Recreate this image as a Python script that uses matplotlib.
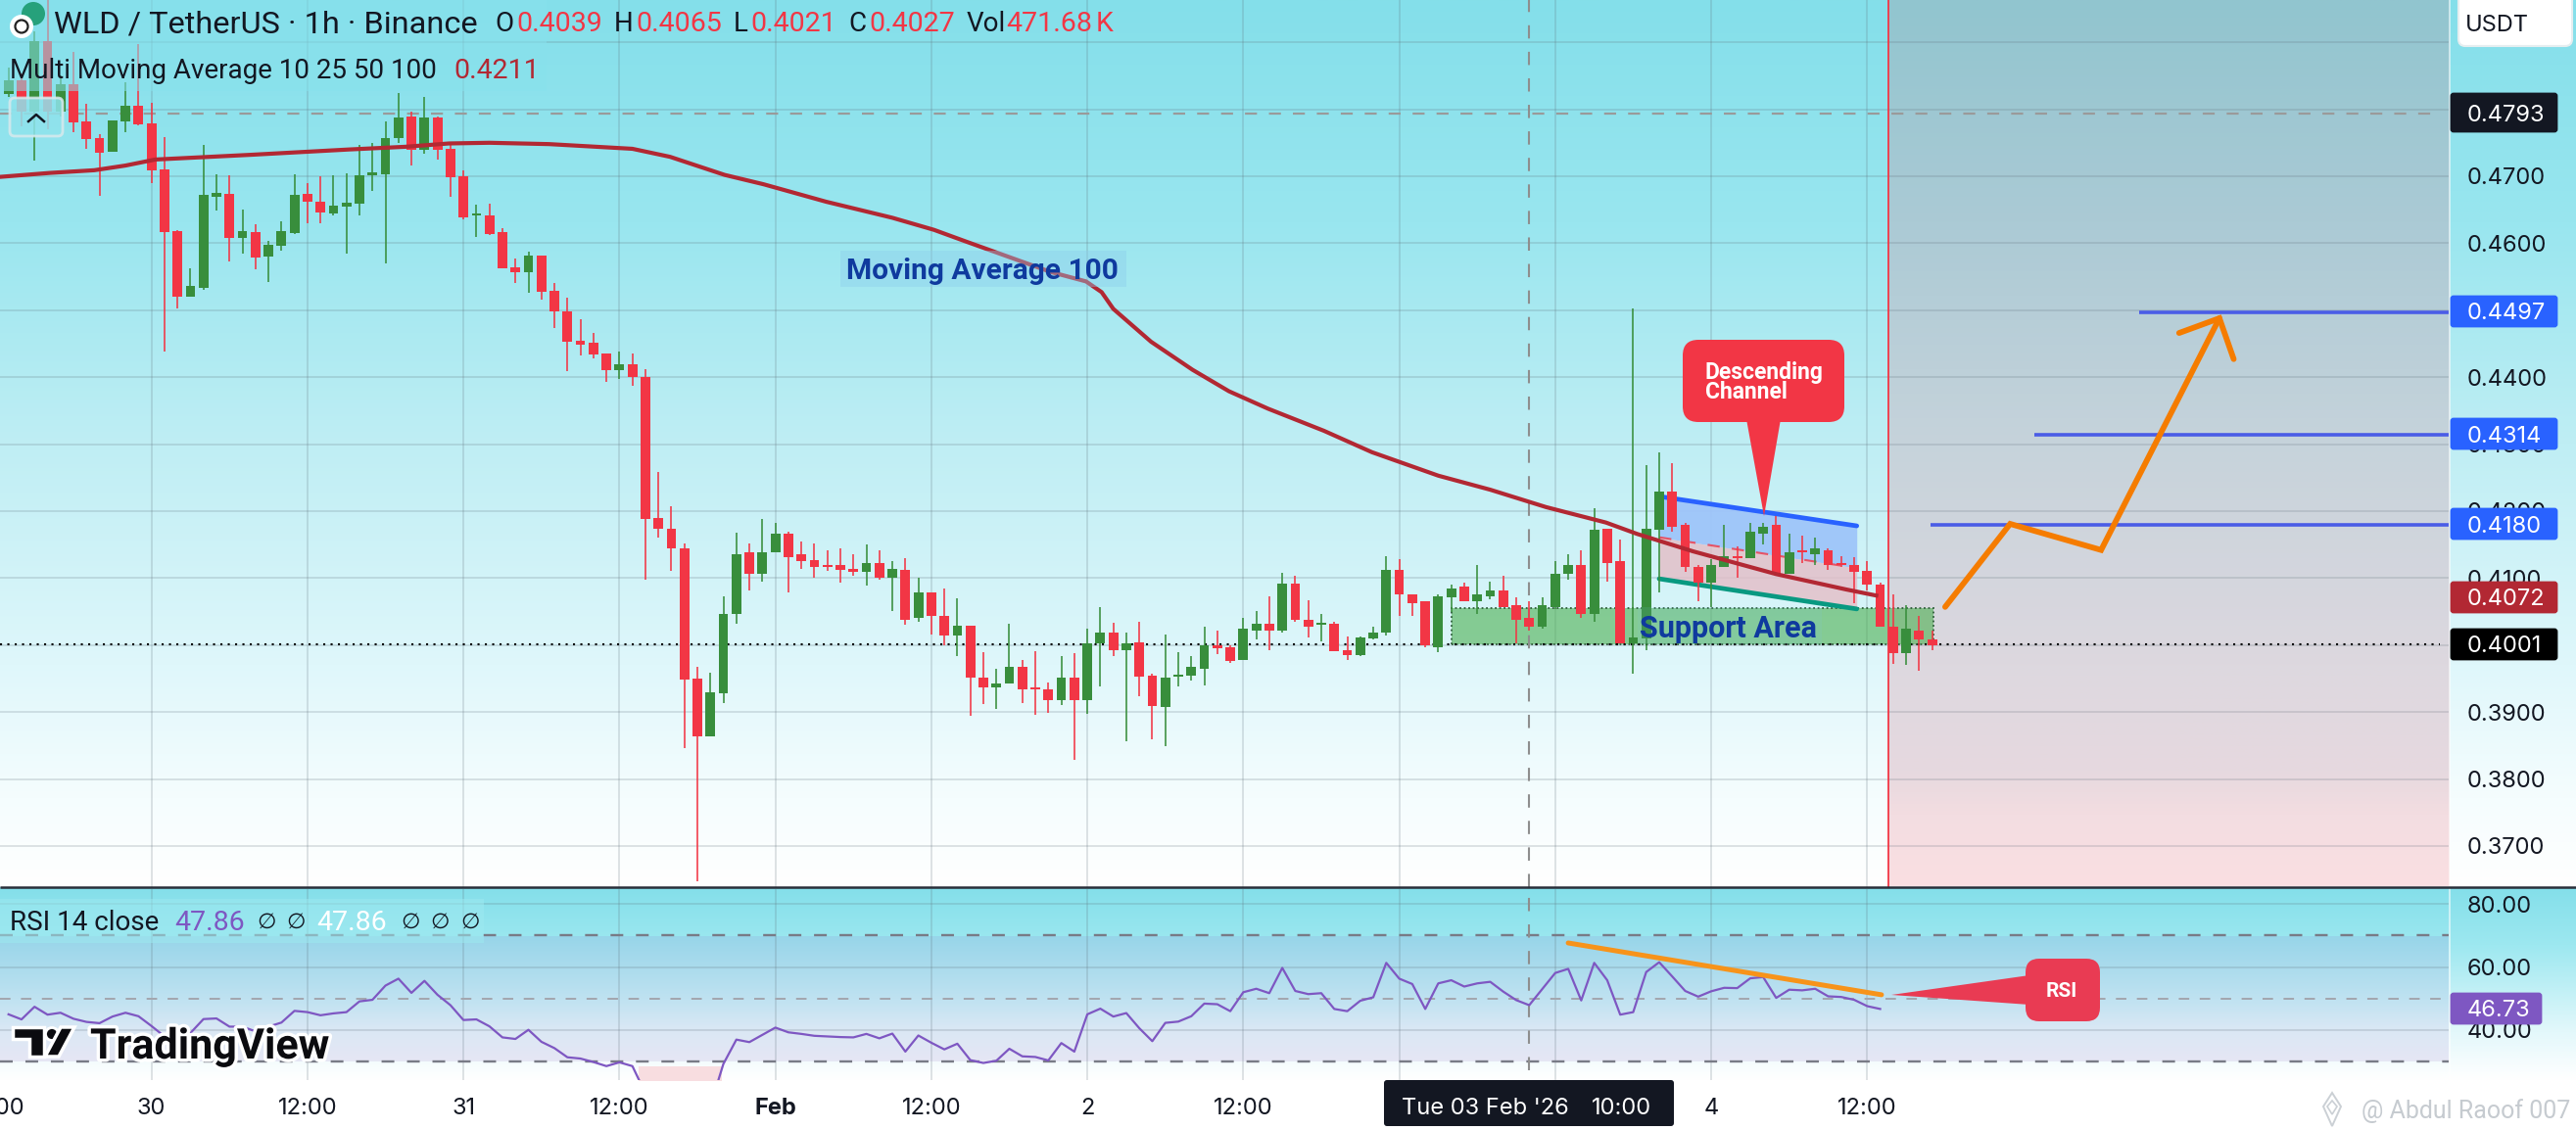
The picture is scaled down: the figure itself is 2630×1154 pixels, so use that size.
import numpy as np
import matplotlib
matplotlib.use('Agg')
import matplotlib.pyplot as plt
import matplotlib.patheffects as pe
from matplotlib.colors import to_rgb
from matplotlib.patches import Circle, FancyBboxPatch, Polygon, Rectangle

W, H = 2630, 1154
PANE_RIGHT = 2500
MAIN_BOTTOM = 906
RSI_TOP, RSI_BOTTOM = 908, 1103

# hourly candles, first one is 29 Jan 13:00
OPEN = [.4823,.4844,.4797,.4902,.4797,.4837,.4782,.4757,.4737,.4782,
        .4805,.4779,.4710,.4618,.4520,.4533,.4669,.4674,.4608,.4617,
        .4580,.4596,.4615,.4674,.4662,.4644,.4655,.4659,.4701,.4703,
        .4757,.4789,.4740,.4788,.4741,.4700,.4642,.4641,.4617,.4564,
        .4557,.4581,.4529,.4498,.4454,.4451,.4435,.4410,.4419,.4401,
        .4190,.4174,.4144,.3950,.3864,.3928,.4046,.4138,.4107,.4138,
        .4167,.4135,.4127,.4120,.4119,.4114,.4110,.4122,.4100,.4113,
        .4040,.4078,.4044,.4015,.4029,.3952,.3937,.3942,.3968,.3937,
        .3934,.3918,.3952,.3918,.4002,.4019,.3993,.4004,.3955,.3908,
        .3953,.3955,.3965,.3999,.3997,.3978,.4022,.4032,.4021,.4092,
        .4038,.4031,.4032,.3993,.3985,.4010,.4019,.4112,.4076,.4065,
        .3997,.4072,.4087,.4066,.4073,.4081,.4059,.4040,.4027,.4057,
        .4106,.4119,.4046,.4173,.4125,.4003,.4010,.4172,.4229,.4180,
        .4117,.4094,.4117,.4133,.4130,.4167,.4179,.4107,.4141,.4136,
        .4142,.4122,.4119,.4111,.4091,.4028,.3988,.4022,.4008]
HIGH = [.4862,.4853,.4916,.4965,.4850,.4886,.4808,.4763,.4784,.4841,
        .4898,.4810,.4759,.4620,.4562,.4747,.4703,.4701,.4650,.4628,
        .4603,.4633,.4703,.4690,.4700,.4701,.4704,.4747,.4750,.4782,
        .4824,.4797,.4819,.4789,.4747,.4709,.4658,.4659,.4622,.4577,
        .4587,.4581,.4540,.4518,.4486,.4466,.4435,.4438,.4435,.4412,
        .4259,.4207,.4152,.3968,.3959,.4073,.4168,.4152,.4189,.4183,
        .4169,.4154,.4152,.4141,.4145,.4136,.4151,.4141,.4126,.4130,
        .4101,.4079,.4085,.4070,.4029,.3990,.3965,.4032,.3978,.3991,
        .3944,.3984,.3988,.4025,.4057,.4034,.4018,.4035,.3958,.4016,
        .3990,.3984,.4028,.4022,.4000,.4041,.4051,.4073,.4108,.4103,
        .4067,.4046,.4035,.4013,.4013,.4028,.4133,.4128,.4076,.4065,
        .4076,.4090,.4094,.4120,.4095,.4104,.4072,.4065,.4071,.4125,
        .4135,.4141,.4204,.4173,.4158,.4502,.4268,.4287,.4271,.4182,
        .4120,.4128,.4180,.4148,.4182,.4182,.4192,.4167,.4163,.4160,
        .4144,.4133,.4132,.4126,.4094,.4076,.4060,.4044,.4022]
LOW = [.4819,.4774,.4723,.4770,.4789,.4766,.4741,.4671,.4737,.4766,
       .4776,.4690,.4438,.4502,.4520,.4530,.4649,.4573,.4584,.4561,
       .4542,.4589,.4614,.4630,.4630,.4641,.4584,.4641,.4678,.4570,
       .4750,.4716,.4734,.4725,.4669,.4636,.4609,.4612,.4562,.4540,
       .4526,.4516,.4473,.4409,.4432,.4428,.4393,.4398,.4387,.4098,
       .4160,.4111,.3846,.3647,.3864,.3914,.4032,.4081,.4095,.4138,
       .4078,.4114,.4100,.4111,.4094,.4103,.4089,.4098,.4051,.4031,
       .4035,.4016,.3999,.3983,.3895,.3912,.3904,.3942,.3914,.3896,
       .3899,.3911,.3829,.3898,.3939,.3984,.3857,.3924,.3860,.3849,
       .3939,.3947,.3940,.3987,.3974,.3978,.4009,.3993,.4019,.4035,
       .4012,.4006,.3991,.3978,.3984,.4008,.4015,.4043,.4044,.3997,
       .3990,.4050,.4065,.4047,.4069,.4056,.4003,.4022,.4024,.4054,
       .4097,.4040,.4035,.4095,.4002,.3958,.3993,.4078,.4169,.4109,
       .4065,.4057,.4117,.4101,.4130,.4150,.4105,.4107,.4122,.4119,
       .4112,.4116,.4063,.4081,.4027,.3972,.3970,.3962,.3992]
CLOSE = [.4844,.4797,.4902,.4797,.4837,.4781,.4756,.4735,.4783,.4805,
         .4777,.4709,.4617,.4520,.4536,.4672,.4675,.4608,.4618,.4578,
         .4598,.4618,.4672,.4662,.4646,.4656,.4661,.4701,.4706,.4757,
         .4788,.4740,.4788,.4740,.4699,.4639,.4644,.4614,.4562,.4557,
         .4581,.4527,.4498,.4453,.4448,.4434,.4410,.4419,.4401,.4188,
         .4173,.4144,.3949,.3864,.3930,.4047,.4136,.4107,.4139,.4167,
         .4132,.4126,.4117,.4117,.4113,.4110,.4122,.4101,.4114,.4037,
         .4078,.4043,.4015,.4029,.3952,.3937,.3943,.3968,.3934,.3934,
         .3918,.3952,.3918,.4003,.4019,.3993,.4003,.3953,.3909,.3952,
         .3956,.3968,.3999,.3996,.3977,.4024,.4032,.4021,.4092,.4037,
         .4028,.4034,.3991,.3985,.4012,.4019,.4112,.4075,.4062,.3999,
         .4073,.4084,.4066,.4076,.4082,.4056,.4038,.4027,.4059,.4107,
         .4120,.4047,.4172,.4122,.4002,.4012,.4173,.4229,.4177,.4117,
         .4094,.4119,.4133,.4130,.4170,.4177,.4107,.4139,.4138,.4144,
         .4119,.4119,.4109,.4091,.4027,.3988,.4025,.4008,.4000]

MA_BARS = [-0.7, 3.2, 6.6, 9, 11.3, 18.6, 26.2, 30.5, 33.9, 37, 41.6, 48, 50.9, 55.1, 58.1,
           62.9, 68, 71.2, 73.6, 80.2, 82.9, 84.1, 85, 87.9, 91.1, 93.9, 96.9, 101.2, 104.9,
           110, 114, 118.3, 122.9, 125.3, 129.6, 136, 141.4, 143.7]
MA_100 = [.4699, .4705, .4709, .4716, .4725, .4732, .4740, .4744, .4749, .4750, .4748, .4741,
          .4729, .4702, .4688, .4662, .4638, .4620, .4603, .4557, .4543, .4527, .4502, .4453,
          .4411, .4379, .4353, .4320, .4288, .4253, .4232, .4206, .4183, .4166, .4140, .4106,
          .4083, .4074]

RSI = [45.0, 43.4, 47.4, 44.9, 45.5, 43.6, 42.6, 42.2, 44.3, 45.5, 44.4, 41.3, 38.0, 36.5, 39.1,
       43.5, 43.7, 41.1, 41.1, 39.6, 41.1, 42.4, 46.1, 45.7, 44.7, 45.3, 45.7, 49.1, 49.6, 54.1,
       56.3, 51.8, 55.6, 51.2, 47.9, 43.2, 43.4, 41.2, 37.7, 37.2, 40.1, 36.3, 34.3, 31.4, 31.0,
       29.9, 28.6, 29.8, 28.6, 20.0, 19.0, 18.5, 13.0, 12.0, 16.0, 29.3, 37.0, 36.2, 38.5, 40.8,
       39.3, 38.8, 38.2, 38.0, 37.8, 37.7, 38.8, 37.4, 38.9, 33.2, 38.3, 36.0, 33.9, 35.7, 30.5,
       29.6, 30.3, 34.1, 31.7, 31.5, 30.4, 35.9, 33.2, 45.0, 46.8, 44.3, 45.4, 40.6, 36.5, 42.3,
       42.7, 44.4, 48.4, 48.2, 46.0, 52.0, 53.1, 51.7, 59.7, 52.4, 51.4, 51.7, 46.7, 46.0, 49.3,
       50.4, 61.3, 56.3, 54.6, 46.7, 54.8, 55.8, 53.8, 54.8, 55.3, 52.2, 49.5, 47.9, 53.0, 58.1,
       59.4, 49.4, 61.3, 55.8, 44.9, 45.7, 58.4, 61.5, 57.0, 52.4, 50.6, 52.3, 53.4, 53.3, 56.4,
       56.8, 50.2, 52.8, 52.6, 53.1, 50.7, 50.5, 49.6, 47.6, 46.7]

PRICE_TICKS = [.37, .38, .39, .40, .41, .42, .43, .44, .45, .46, .47, .48, .49]
TIME_TICKS = [11, 23, 35, 47, 59, 71, 83, 95, 107, 119, 131, 143]
TIME_LABELS = ['30', '12:00', '31', '12:00', 'Feb', '12:00', '2', '12:00', '3', '12:00', '4', '12:00']
RSI_TICKS = [40, 60, 80]
RSI_LEVELS = [30, 50, 70]

HIGH_LINE = .4793
LAST_LINE = .4001
CROSSHAIR_BAR = 117
NOW_BAR = 144.6

TARGET_PRICES = [.4180, .4314, .4497]
TARGET_STARTS = [147.9, 155.9, 163.9]

CH_BARS = [127, 142.2]
CH_UPPER = [.4222, .4178]
CH_MID = [.4161, .4115]
CH_LOWER = [.4099, .4054]

SUPPORT_BARS = [111, 148.1]
SUPPORT_PRICES = [.4001, .4055]

PATH_BARS = [149, 154, 161, 170.1]
PATH_PRICES = [.4057, .4181, .4142, .4488]
HEAD_BARS = [167, 170.1, 171.2]
HEAD_PRICES = [.4466, .4488, .4427]

RSI_TREND_BARS = [120, 144.1]
RSI_TREND = [67.6, 51.2]

RED = '#F23645'
GREEN = '#388E3C'
DARK = '#131722'
BLUE_TAG = '#2962FF'
PURPLE = '#7E57C2'
UI = ['Inter', 'DejaVu Sans']
HEAD = ['Roboto', 'DejaVu Sans']


def gradient(stops, n):
    # stops are (position 0-1, colour)
    pos = [s[0] for s in stops]
    cols = np.array([to_rgb(s[1]) for s in stops])
    t = np.linspace(0, 1, n)
    return np.stack([np.interp(t, pos, cols[:, i]) for i in range(3)], axis=1)[:, None, :]


fig = plt.figure(figsize=(W / 100, H / 100), dpi=100, facecolor='white')

# background layer in pixels
bg = fig.add_axes([0, 0, 1, 1], zorder=0)
bg.axis('off')
main_grad = gradient([(0, '#84DFEA'), (.25, '#99E6EF'), (.5, '#BFEEF4'), (.75, '#DFF7FB'),
                      (.9, '#F5FDFE'), (1, '#FFFFFF')], 400)
rsi_grad = gradient([(0, '#84DFEA'), (.3, '#9DE8F0'), (.75, '#E3F8FB'), (1, '#FFFFFF')], 200)
bg.imshow(main_grad, extent=(0, W, MAIN_BOTTOM, 0), aspect='auto')
bg.imshow(rsi_grad, extent=(0, W, RSI_BOTTOM, MAIN_BOTTOM), aspect='auto')
band = gradient([(0, '#97D5E9'), (.5, '#BFE2F1'), (.75, '#DAE8F5'), (1, '#E6E6F4')], 200)
bg.imshow(band, extent=(0, PANE_RIGHT, 1084, 956), aspect='auto')
future = gradient([(0, '#91C5CF'), (.25, '#ABCAD5'), (.5, '#C6D3DB'), (.75, '#DDD8DF'),
                   (.87, '#E6D9DF'), (.92, '#F3DDE1'), (1, '#FADFE2')], 400)
bg.imshow(future, extent=(NOW_BAR * 13.27 + 8.7, PANE_RIGHT, MAIN_BOTTOM - 1, 0), aspect='auto')
bg.add_patch(Rectangle((PANE_RIGHT, 0), 2, RSI_BOTTOM, color='white', alpha=.55, lw=0))
bg.add_patch(Rectangle((0, RSI_BOTTOM), W, H - RSI_BOTTOM, color='white', lw=0))
bg.set_xlim(0, W)
bg.set_ylim(H, 0)

# main price pane
ax = fig.add_axes([0, (H - MAIN_BOTTOM) / H, PANE_RIGHT / W, MAIN_BOTTOM / H], zorder=1)
ax.patch.set_alpha(0)
for s in ax.spines.values():
    s.set_visible(False)
bars = np.arange(len(OPEN))
xlim = (-8.7 / 13.27, (PANE_RIGHT - 8.7) / 13.27)
ax.set_xlim(xlim)
ax.set_ylim(.37 - 42 / 6840, .37 + 864 / 6840)
ax.yaxis.tick_right()
ax.set_yticks(PRICE_TICKS)
# 0.4900 sits under the USDT button in the original
ax.set_yticklabels(['%.4f' % p if p < .49 else '' for p in PRICE_TICKS], family=UI, fontsize=17, color='#131722')
ax.set_xticks(TIME_TICKS)
ax.tick_params(axis='x', length=0, labelbottom=False)
ax.tick_params(axis='y', length=0, pad=13.5)
ax.grid(True, color='#5F6F7A', alpha=.25, lw=1.1, zorder=1)
ax.set_axisbelow(True)

# channel sits behind the candles
ax.fill_between(CH_BARS, CH_MID, CH_UPPER, color='#9EC5FA', alpha=.95, lw=0, zorder=2)
ax.fill_between(CH_BARS, CH_LOWER, CH_MID, color='#E5BDC6', alpha=.8, lw=0, zorder=2)
ax.plot(CH_BARS, CH_MID, color=RED, lw=1.5, ls=(0, (6, 6)), alpha=.8, zorder=2.1)
ax.plot(CH_BARS, CH_UPPER, color=BLUE_TAG, lw=3.4, solid_capstyle='round', zorder=2.2)
ax.plot(CH_BARS, CH_LOWER, color='#089981', lw=3.4, solid_capstyle='round', zorder=2.2)

ax.add_patch(Rectangle((SUPPORT_BARS[0], SUPPORT_PRICES[0]), SUPPORT_BARS[1] - SUPPORT_BARS[0],
                       SUPPORT_PRICES[1] - SUPPORT_PRICES[0], facecolor='#4CAF50', alpha=.6, lw=0, zorder=2))
ax.add_patch(Rectangle((SUPPORT_BARS[0], SUPPORT_PRICES[0]), SUPPORT_BARS[1] - SUPPORT_BARS[0],
                       SUPPORT_PRICES[1] - SUPPORT_PRICES[0], fill=False, edgecolor='#2F5E3A', lw=1.3,
                       ls=(0, (1, 1.5)), zorder=2.1))

ax.axhline(HIGH_LINE, xmax=(NOW_BAR + 42.5) / xlim[1], color='#9A9A9A', lw=1.6, ls=(0, (5.5, 5.5)), zorder=2.3)
ax.axhline(LAST_LINE, xmax=(NOW_BAR + 42.5) / xlim[1], color='black', lw=1.5, ls=(0, (1, 2.6)), zorder=2.3)
ax.axvline(CROSSHAIR_BAR, color='#8E8E8E', lw=1.5, ls=(0, (6.5, 6.5)), zorder=2.3)

colors = [GREEN if c >= o else RED for o, c in zip(OPEN, CLOSE)]
ax.vlines(bars, LOW, HIGH, colors=colors, lw=1.15, zorder=3)
ax.bar(bars, np.array(CLOSE) - np.array(OPEN), bottom=OPEN, width=.74, color=colors, lw=0, zorder=3)

ax.plot(MA_BARS, MA_100, color='#B22833', lw=3, zorder=4)
ax.axvline(NOW_BAR, color=RED, lw=1.3, zorder=4)

for price, start in zip(TARGET_PRICES, TARGET_STARTS):
    ax.hlines(price, start, xlim[1], color='#4A5CE6', lw=2.6, zorder=4)
ax.plot(PATH_BARS, PATH_PRICES, color='#F57C00', lw=4.2, solid_capstyle='round', solid_joinstyle='miter', zorder=5)
ax.plot(HEAD_BARS, HEAD_PRICES, color='#F57C00', lw=4.2, solid_capstyle='round', solid_joinstyle='miter', zorder=5)

# rsi pane
rx = fig.add_axes([0, (H - RSI_BOTTOM) / H, PANE_RIGHT / W, (RSI_BOTTOM - RSI_TOP) / H], zorder=1)
rx.patch.set_alpha(0)
for s in rx.spines.values():
    s.set_visible(False)
rx.set_xlim(xlim)
rx.set_ylim(80 - (RSI_BOTTOM - 923) / 3.225, 80 + (923 - RSI_TOP) / 3.225)
rx.yaxis.tick_right()
rx.set_yticks(RSI_TICKS)
rx.set_yticklabels(['%.2f' % v for v in RSI_TICKS], family=UI, fontsize=17, color='#131722')
rx.set_xticks(TIME_TICKS)
rx.set_xticklabels(TIME_LABELS, family=UI, fontsize=17, color='#131722')
rx.get_xticklabels()[TIME_LABELS.index('Feb')].set_fontweight('bold')
rx.tick_params(axis='x', length=0, pad=13)
rx.tick_params(axis='y', length=0, pad=13.5)
rx.grid(True, color='#5F6F7A', alpha=.25, lw=1.1)
rx.set_axisbelow(True)
rx.fill_between([48.5, 54.9], 20, 28.6, color='#F8DDE0', lw=0, zorder=1.5)
for level in RSI_LEVELS:
    rx.axhline(level, color='#787B86' if level != 50 else '#A3A6AE', lw=1.7 if level != 50 else 1.4,
               ls=(0, (5.5, 5.5)), zorder=1.6)
rx.axvline(CROSSHAIR_BAR, ymin=.05, color='#8E8E8E', lw=1.5, ls=(0, (6.5, 6.5)), zorder=1.7)
rx.plot(np.arange(len(RSI)), RSI, color=PURPLE, lw=1.6, zorder=3)
rx.plot(RSI_TREND_BARS, RSI_TREND, color='#F7931A', lw=3.6, solid_capstyle='round', zorder=4)

# overlay in pixels: labels, callouts, logos
pix = fig.add_axes([0, 0, 1, 1], zorder=3)
pix.axis('off')
pix.patch.set_alpha(0)
pix.set_xlim(0, W)
pix.set_ylim(H, 0)


def txt(x, y, s, color='#131722', size=17, family=HEAD, weight='normal', ha='left', **kw):
    return pix.text(x, y, s, color=color, fontsize=size, family=family, fontweight=weight,
                    ha=ha, va='center_baseline', **kw)


def tag(top, height, s, color, right=2612):
    pix.add_patch(FancyBboxPatch((2503, top + 2), right - 2505, height - 4, boxstyle='round,pad=0,rounding_size=2',
                                 facecolor=color, edgecolor=color, lw=2))
    txt(2519, top + height / 2, s, color='white', family=UI)


pix.plot([0, W], [MAIN_BOTTOM, MAIN_BOTTOM], color='#2A2E39', lw=1.8, solid_capstyle='butt')

# legends
pix.add_patch(Rectangle((0, 0), 558, 93, facecolor='#88E1EC', alpha=.55, lw=0))
pix.add_patch(Rectangle((0, 918), 494, 45, facecolor='#9DE9F0', alpha=.55, lw=0))
pix.add_patch(Circle((34, 14), 12, facecolor='#26A17B', lw=0))
pix.add_patch(Circle((22, 27), 12, facecolor='white', lw=0))
pix.add_patch(Circle((22, 27), 6.5, facecolor='none', edgecolor='#222222', lw=1.6))
txt(55, 22, 'WLD / TetherUS · 1h · Binance', size=23.4)
for x, s in [(505, 'O'), (627, 'H'), (749, 'L'), (866, 'C'), (987, 'Vol')]:
    txt(x, 22, s, size=20)
for x, s in [(527, '0.4039'), (649, '0.4065'), (766, '0.4021'), (887, '0.4027'), (1027, '471.68'), (1119, 'K')]:
    txt(x, 22, s, color=RED, size=20.5, family=HEAD)
txt(10, 70, 'Multi Moving Average 10 25 50 100', size=20)
txt(463, 70, '0.4211', color='#B22833', size=20.5)
txt(10, 940, 'RSI 14 close', size=20)
txt(178, 940, '47.86', color=PURPLE, size=20.5)
txt(323, 940, '47.86', color='white', size=20.5)
for x in [262, 292, 409, 439, 470]:
    txt(x, 940, '∅', size=16, family=['DejaVu Sans'])

# collapse button
pix.add_patch(FancyBboxPatch((10, 100), 54, 39, boxstyle='round,pad=0,rounding_size=5', facecolor='#8FE3EC',
                             edgecolor='#D8E9ED', lw=2, alpha=.85))
pix.plot([29, 37, 45], [124, 117, 124], color='#131722', lw=1.8)

# price axis tags
pix.add_patch(FancyBboxPatch((2510, -8), 116, 55, boxstyle='round,pad=0,rounding_size=7', facecolor='white',
                             edgecolor='#E6EEF0', lw=1.5))
txt(2517, 24, 'USDT', size=17, family=UI)
tag(94, 42, '0.4793', DARK)
tag(301, 34, '0.4497', BLUE_TAG)
tag(426, 34, '0.4314', BLUE_TAG)
tag(518, 34, '0.4180', BLUE_TAG)
tag(593, 34, '0.4072', '#B22833')
tag(641, 34, '0.4001', '#000000')
tag(1013, 34, '46.73', PURPLE, right=2596)

# Moving average label
pix.add_patch(Rectangle((858, 256), 292, 37, facecolor='#8CCDEB', alpha=.4, lw=0))
txt(864, 274, 'Moving Average 100', color='#0F3A9E', size=21.5, weight='bold')

# support label
pix.add_patch(Rectangle((1672, 620), 188, 38, facecolor='#7CC5EA', alpha=.12, lw=0))
txt(1674, 639, 'Support Area', color='#0F3A9E', size=22, weight='bold')

# descending channel callout
pix.add_patch(FancyBboxPatch((1718, 347), 165, 84, boxstyle='round,pad=0,rounding_size=16', facecolor=RED, lw=0))
pix.add_patch(Polygon([(1783, 428), (1818, 428), (1801, 527)], facecolor=RED, lw=0))
txt(1741, 378, 'Descending', color='white', size=16.5, weight='bold')
txt(1741, 398, 'Channel', color='white', size=16.5, weight='bold')

# rsi callout
pix.add_patch(FancyBboxPatch((2068, 979), 76, 64, boxstyle='round,pad=0,rounding_size=14', facecolor='#E93B53', lw=0))
pix.add_patch(Polygon([(1931, 1016), (2072, 996), (2072, 1026)], facecolor='#E93B53', lw=0))
txt(2105, 1010, 'RSI', color='white', size=15, weight='bold', ha='center')

# crosshair date
pix.add_patch(FancyBboxPatch((1413, 1103), 296, 47, boxstyle='round,pad=0,rounding_size=3', facecolor=DARK, lw=0))
txt(1431, 1130, "Tue 03 Feb '26", color='white', family=UI)
txt(1625, 1130, '10:00', color='white', family=UI)
txt(-5, 1130, '12:00', family=UI, ha='center', clip_on=False)

# TradingView mark
halo = [pe.withStroke(linewidth=5, foreground='white')]
pix.add_patch(Polygon([(13, 1049), (45, 1049), (45, 1079), (30, 1079), (30, 1061), (13, 1061)],
                      facecolor='#0B0B0F', edgecolor='white', lw=2.5))
pix.add_patch(Circle((53, 1056), 6.5, facecolor='#0B0B0F', edgecolor='white', lw=2))
pix.add_patch(Polygon([(62, 1049), (76, 1049), (60, 1079), (46, 1079)], facecolor='#0B0B0F', edgecolor='white', lw=2.5))
txt(92, 1065, 'TradingView', color='#0B0B0F', size=31, weight='bold', path_effects=halo)

# watermark
pix.add_patch(Polygon([(2381, 1116), (2390, 1130), (2381, 1150), (2372, 1130)], facecolor='none', edgecolor='#CBD0D5', lw=1.4))
pix.add_patch(Polygon([(2381, 1124), (2386, 1130), (2381, 1138), (2376, 1130)], facecolor='none', edgecolor='#CBD0D5', lw=1.2))
txt(2411, 1132, '@ Abdul Raoof 007', color='#C6CBD0', size=18)

fig.savefig('out.png', dpi=100, facecolor='white')
